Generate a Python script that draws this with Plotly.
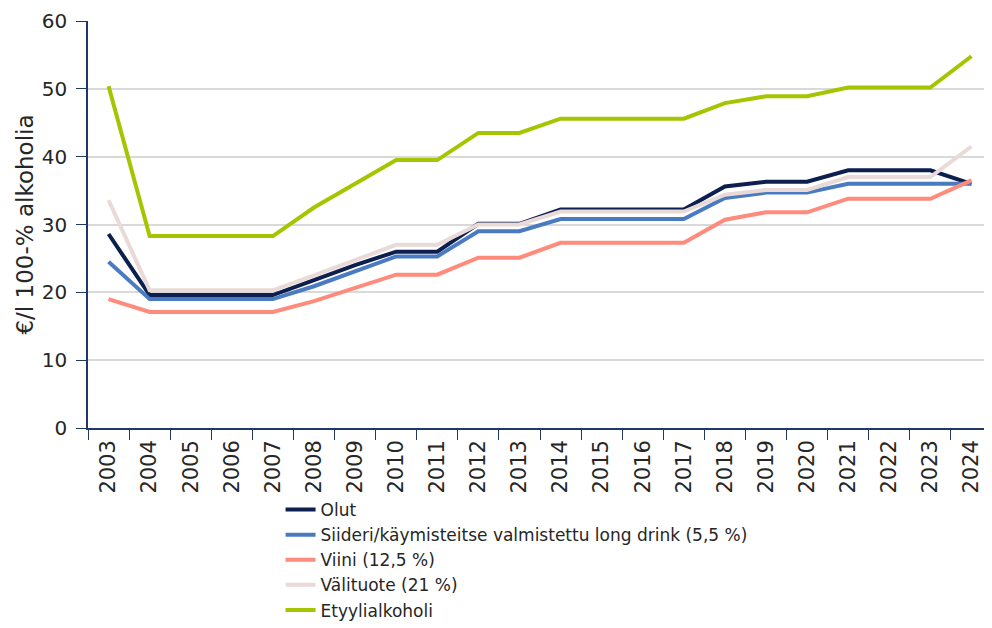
import plotly.graph_objects as go

years = [str(y) for y in range(2003, 2025)]

olut = [28.6, 19.6, 19.6, 19.6, 19.6, 21.8, 24.0, 26.0, 26.0, 30.1, 30.1, 32.2, 32.2, 32.2, 32.2,
        35.6, 36.3, 36.3, 38.0, 38.0, 38.0, 36.0]
siideri = [24.5, 19.0, 19.0, 19.0, 19.0, 20.9, 23.1, 25.3, 25.3, 29.0, 29.0, 30.8, 30.8, 30.8, 30.8,
           33.9, 34.7, 34.7, 36.0, 36.0, 36.0, 36.0]
viini = [19.0, 17.1, 17.1, 17.1, 17.1, 18.7, 20.7, 22.6, 22.6, 25.1, 25.1, 27.3, 27.3, 27.3, 27.3,
         30.7, 31.8, 31.8, 33.8, 33.8, 33.8, 36.5]
valituote = [33.6, 20.3, 20.3, 20.3, 20.3, 22.5, 24.8, 27.0, 27.0, 30.0, 30.0, 31.9, 31.9, 31.9, 31.9,
             34.4, 35.1, 35.1, 37.0, 37.0, 37.0, 41.5]
etyyli = [50.4, 28.3, 28.3, 28.3, 28.3, 32.5, 36.0, 39.5, 39.5, 43.5, 43.5, 45.6, 45.6, 45.6, 45.6,
          47.9, 48.9, 48.9, 50.2, 50.2, 50.2, 54.8]

names = ["Olut", "Siideri/käymisteitse valmistettu long drink (5,5 %)", "Viini (12,5 %)",
         "Välituote (21 %)", "Etyylialkoholi"]
colors = ["#0c1f4e", "#4a7bc1", "#ff8b7c", "#e9d9d7", "#a6c500"]
series = [olut, siideri, viini, valituote, etyyli]

fig = go.Figure()
for n, c, s in zip(names, colors, series):
    fig.add_trace(go.Scatter(x=years, y=s, name=n, mode="lines",
                             line=dict(color=c, width=4)))

font = "'DejaVu Sans', sans-serif"
fig.update_layout(
    width=984, height=620,
    margin=dict(l=80, r=0, t=13, b=200),
    plot_bgcolor="white", paper_bgcolor="white",
    font=dict(family=font, size=20, color="#262626"),
    showlegend=True,
    legend=dict(x=0.213, y=-0.4914, xanchor="left", yanchor="bottom",
                font=dict(size=17, color="#262626"), tracegroupgap=0,
                bgcolor="rgba(0,0,0,0)"),
    xaxis=dict(type="category", range=[-0.5, 21.5], tickangle=-90, showgrid=False,
               showline=True, linecolor="#1f3864", linewidth=1.5,
               ticks="outside", tickson="boundaries", ticklen=10, tickcolor="#1f3864",
               tickfont=dict(size=21), automargin=False, ticklabelstandoff=2),
    yaxis=dict(range=[0, 60], dtick=10, showgrid=True, gridcolor="#d9d9d9", gridwidth=1.5,
               showline=True, linecolor="#1f3864", linewidth=1.5,
               ticks="outside", ticklen=10, tickcolor="#1f3864",
               zeroline=False, tickfont=dict(size=20), automargin=False,
               ticklabelstandoff=5,
               title=dict(text="€/l 100-% alkoholia", font=dict(size=23), standoff=2)),
)
fig.write_html("out.html")
